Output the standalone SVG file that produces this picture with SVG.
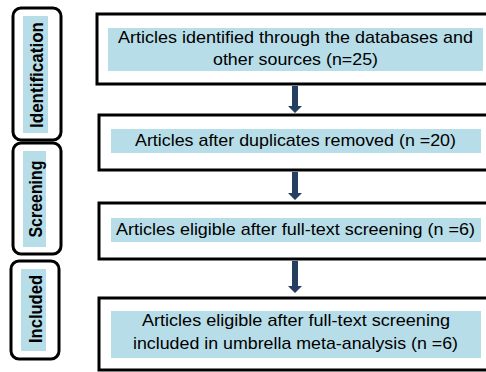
<svg xmlns="http://www.w3.org/2000/svg" width="486" height="372" viewBox="0 0 486 372">
<style>
.phase{fill:#fff;stroke:#000;stroke-width:3}
.box{fill:#fff;stroke:#000;stroke-width:3}
.hl{fill:#B7DDE8}
.pt{font-family:"Liberation Sans",Arial,sans-serif;font-weight:bold;font-size:18px;fill:#000;text-anchor:middle}
.t{font-family:"Liberation Sans",Arial,sans-serif;font-size:17px;fill:#000;text-anchor:middle}
.arr{fill:#243F60}
</style>
<rect width="486" height="372" fill="#fff"/>
<g id="phase-identification">
<rect class="phase" x="13" y="8" width="48" height="132" rx="8"/>
<rect class="hl" x="23" y="16" width="25" height="117"/>
<text class="pt" transform="translate(42.5,75) rotate(-90)" textLength="106" lengthAdjust="spacingAndGlyphs">Identification</text>
</g>
<g id="phase-screening">
<rect class="phase" x="13" y="143" width="48" height="111" rx="8"/>
<rect class="hl" x="23" y="151" width="23" height="96"/>
<text class="pt" transform="translate(42,199) rotate(-90)" textLength="77" lengthAdjust="spacingAndGlyphs">Screening</text>
</g>
<g id="phase-included">
<rect class="phase" x="11" y="261" width="48" height="98" rx="8"/>
<rect class="hl" x="21" y="269" width="25" height="82"/>
<text class="pt" transform="translate(41.5,309) rotate(-90)" textLength="68" lengthAdjust="spacingAndGlyphs">Included</text>
</g>
<g id="box-identified">
<rect class="box" x="97" y="14" width="400" height="70"/>
<rect class="hl" x="108" y="28" width="375" height="43"/>
<text class="t" x="295.5" y="43" textLength="355" lengthAdjust="spacingAndGlyphs">Articles identified through the databases and</text>
<text class="t" x="295.5" y="65" textLength="165" lengthAdjust="spacingAndGlyphs">other sources (n=25)</text>
</g>
<g id="box-duplicates">
<rect class="box" x="99" y="115" width="400" height="55"/>
<rect class="hl" x="111" y="129" width="370" height="24"/>
<text class="t" x="295.5" y="146" textLength="321" lengthAdjust="spacingAndGlyphs">Articles after duplicates removed (n =20)</text>
</g>
<g id="box-eligible">
<rect class="box" x="99" y="203" width="400" height="56"/>
<rect class="hl" x="111" y="218" width="370" height="24"/>
<text class="t" x="295.5" y="235" textLength="359" lengthAdjust="spacingAndGlyphs">Articles eligible after full-text screening (n =6)</text>
</g>
<g id="box-included">
<rect class="box" x="99" y="298" width="400" height="72"/>
<rect class="hl" x="111" y="311" width="370" height="47"/>
<text class="t" x="296" y="326" textLength="308" lengthAdjust="spacingAndGlyphs">Articles eligible after full-text screening</text>
<text class="t" x="295.5" y="349" textLength="325" lengthAdjust="spacingAndGlyphs">included in umbrella meta-analysis (n =6)</text>
</g>
<g id="connectors">
<polygon class="arr" points="292,86 298,86 298,106 302,106 295,113 288,106 292,106"/>
<polygon class="arr" points="292,172 298,172 298,193 302,193 295,200 288,193 292,193"/>
<polygon class="arr" points="292,261 298,261 298,286 302,286 295,293 288,286 292,286"/>
</g>
</svg>
